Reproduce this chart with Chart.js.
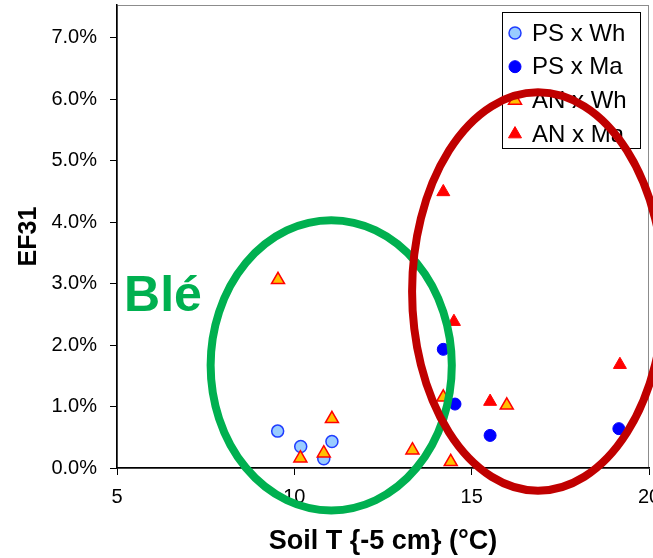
<!DOCTYPE html>
<html>
<head>
<meta charset="utf-8">
<script src="https://cdn.jsdelivr.net/npm/chart.js@4.4.1/dist/chart.umd.min.js"></script>
<style>
  html, body { margin: 0; padding: 0; background: #fff; }
  #wrap { width: 653px; height: 558px; position: relative; }
</style>
</head>
<body>
<div id="wrap"><canvas id="chart"></canvas></div>
<script>
// soil temperature at -5 cm (°C) and EF31 (%) for each treatment
const psWhTemp = [9.53, 10.18, 10.83, 11.06];
const psWhEF = [0.60, 0.35, 0.15, 0.43];
const psMaTemp = [14.20, 14.53, 15.52, 19.15];
const psMaEF = [1.93, 1.04, 0.53, 0.64];
const anWhTemp = [9.54, 10.17, 10.83, 11.06, 13.33, 14.20, 14.41, 15.99];
const anWhEF = [3.06, 0.16, 0.24, 0.80, 0.29, 1.15, 0.10, 1.02];
const anMaTemp = [14.20, 14.50, 15.52, 19.18];
const anMaEF = [4.49, 2.38, 1.08, 1.68];

const seriesNames = ['PS x Wh', 'PS x Ma', 'AN x Wh', 'AN x Ma'];
const xTicks = [5, 10, 15, 20];
const yTicks = [0, 1, 2, 3, 4, 5, 6, 7];

const FONT = '"Liberation Sans", Arial, sans-serif';

function pts(xs, ys) {
  return xs.map((x, i) => ({ x: x, y: ys[i] }));
}

// no extra room for overhanging tick labels, the plot fills the frame
function noOverhang(s) {
  s.paddingTop = 0; s.paddingBottom = 0; s.paddingLeft = 0; s.paddingRight = 0;
}

// gray frame on top / right of the plot area
const frame = {
  id: 'frame',
  beforeDraw(chart) {
    const a = chart.chartArea, ctx = chart.ctx;
    ctx.save();
    ctx.strokeStyle = '#8c8c8c';
    ctx.lineWidth = 1;
    ctx.strokeRect(a.left + 0.5, a.top + 0.5, a.right - a.left - 1, a.bottom - a.top);
    ctx.restore();
  }
};

// legend box, the two group ellipses and the "Blé" label
const overlay = {
  id: 'overlay',
  afterDraw(chart) {
    const ctx = chart.ctx, a = chart.chartArea;
    const xs = chart.scales.x, ys = chart.scales.y;
    ctx.save();

    // legend
    const bx = a.right - 147, by = a.top + 7, bw = 138, bh = 136;
    ctx.fillStyle = '#fff';
    ctx.fillRect(bx, by, bw, bh);
    ctx.strokeStyle = '#000';
    ctx.lineWidth = 1;
    ctx.strokeRect(bx + 0.5, by + 0.5, bw, bh);
    ctx.font = '24px ' + FONT;
    ctx.textBaseline = 'middle';
    ctx.textAlign = 'left';
    chart.data.datasets.forEach((ds, i) => {
      const cy = by + 21 + i * 33.7;
      const mx = bx + 13;
      ctx.fillStyle = ds.backgroundColor;
      ctx.strokeStyle = ds.borderColor;
      ctx.lineWidth = ds.borderWidth;
      ctx.beginPath();
      if (ds.pointStyle === 'circle') {
        ctx.arc(mx, cy, 6, 0, Math.PI * 2);
      } else {
        const r = 7.5;
        ctx.moveTo(mx, cy - r);
        ctx.lineTo(mx + r * 0.866, cy + r * 0.5);
        ctx.lineTo(mx - r * 0.866, cy + r * 0.5);
        ctx.closePath();
      }
      ctx.fill();
      ctx.stroke();
      ctx.fillStyle = '#000';
      ctx.fillText(ds.label, bx + 30, cy + 1);
    });

    // group ellipses, given in data units
    const rings = [
      { cx: 11.04, cy: 1.67, rx: 3.40, ry: 2.36, color: '#00b050' },
      { cx: 16.87, cy: 2.87, rx: 3.55, ry: 3.24, color: '#c00000' }
    ];
    rings.forEach(r => {
      const px = xs.getPixelForValue(r.cx), py = ys.getPixelForValue(r.cy);
      const rx = xs.getPixelForValue(r.cx + r.rx) - px;
      const ry = py - ys.getPixelForValue(r.cy + r.ry);
      ctx.beginPath();
      ctx.ellipse(px, py, rx, ry, 0, 0, Math.PI * 2);
      ctx.strokeStyle = r.color;
      ctx.lineWidth = 8;
      ctx.stroke();
    });

    // label of the wheat group
    ctx.fillStyle = '#00b050';
    ctx.font = 'bold 50px ' + FONT;
    ctx.textBaseline = 'alphabetic';
    ctx.fillText('Blé', xs.getPixelForValue(5.2), ys.getPixelForValue(2.55));
    ctx.restore();
  }
};

new Chart(document.getElementById('chart'), {
  type: 'scatter',
  data: {
    datasets: [
      {
        label: seriesNames[0], data: pts(psWhTemp, psWhEF), order: 4,
        pointStyle: 'circle', pointRadius: 6, pointHoverRadius: 6,
        backgroundColor: '#99ccff', borderColor: '#1f3cff', borderWidth: 1.5
      },
      {
        label: seriesNames[1], data: pts(psMaTemp, psMaEF), order: 3,
        pointStyle: 'circle', pointRadius: 6, pointHoverRadius: 6,
        backgroundColor: '#0000ff', borderColor: '#0000ff', borderWidth: 1
      },
      {
        label: seriesNames[2], data: pts(anWhTemp, anWhEF), order: 2,
        pointStyle: 'triangle', pointRadius: 7.5, pointHoverRadius: 7.5,
        backgroundColor: '#ffc000', borderColor: '#ff0000', borderWidth: 1.5
      },
      {
        label: seriesNames[3], data: pts(anMaTemp, anMaEF), order: 1,
        pointStyle: 'triangle', pointRadius: 7.5, pointHoverRadius: 7.5,
        backgroundColor: '#ff0000', borderColor: '#ff0000', borderWidth: 1
      }
    ]
  },
  options: {
    responsive: true,
    maintainAspectRatio: false,
    animation: false,
    events: [],
    layout: { autoPadding: false, padding: { top: 5, right: 4, left: 0, bottom: 0 } },
    plugins: { legend: { display: false }, tooltip: { enabled: false } },
    scales: {
      x: {
        type: 'linear', min: 5, max: 20,
        afterBuildTicks: s => { s.ticks = xTicks.map(v => ({ value: v })); },
        afterFit: s => { s.height = 90; noOverhang(s); },
        ticks: { color: '#000', font: { family: FONT, size: 20 }, padding: 10, maxRotation: 0 },
        grid: { drawOnChartArea: false, tickLength: 7, color: '#000' },
        border: { color: '#000', width: 1.5 },
        title: {
          display: true, text: 'Soil T {-5 cm} (°C)', color: '#000',
          font: { family: FONT, size: 27, weight: 'bold' }, padding: { top: 0, bottom: 0 }
        }
      },
      y: {
        type: 'linear', min: 0, max: 7.53,
        afterBuildTicks: s => { s.ticks = yTicks.map(v => ({ value: v })); },
        afterFit: s => { s.width = 117; noOverhang(s); },
        ticks: { color: '#000', font: { family: FONT, size: 20 }, padding: 13,
          callback: v => v.toFixed(1) + '%' },
        grid: { drawOnChartArea: false, tickLength: 7, color: '#000' },
        border: { color: '#000', width: 1.5 },
        title: {
          display: true, text: 'EF31', color: '#000',
          font: { family: FONT, size: 25, weight: 'bold' }, padding: { top: 14, bottom: 0 }
        }
      }
    }
  },
  plugins: [frame, overlay]
});
</script>
</body>
</html>
